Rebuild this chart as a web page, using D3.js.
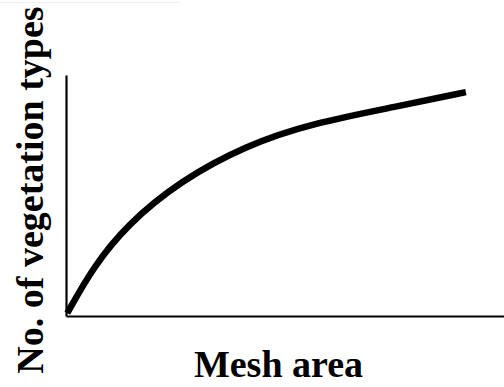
<!DOCTYPE html>
<html>
<head>
<meta charset="utf-8">
<script src="https://cdn.jsdelivr.net/npm/d3@7"></script>
<style>
  html, body { margin: 0; padding: 0; background: #fff; }
  svg { display: block; }
  text { font-family: "Liberation Serif", "Times New Roman", serif; font-weight: bold; fill: #000; }
</style>
</head>
<body>
<svg id="chart" width="504" height="387"></svg>
<script>
// Species–area style curve: number of vegetation types vs. mesh area (relative units)
const meshArea = [0.3, 6.2, 13.9, 26.0, 41.3, 56.5, 75.5, 91.3];
const vegTypes = [1.2, 20.3, 37.8, 56.0, 71.0, 80.1, 86.9, 92.9];
const xTitle = "Mesh area";
const yTitle = "No. of vegetation types";

const svg = d3.select("#chart");
const W = 504, H = 387;
const margin = { left: 66, right: 0, top: 75, bottom: 71 };

const x = d3.scaleLinear().domain([0, 100]).range([margin.left, W - margin.right]);
const y = d3.scaleLinear().domain([0, 100]).range([H - margin.bottom, margin.top]);

// faint frame line along the top edge
svg.append("line")
  .attr("x1", 0).attr("x2", 180).attr("y1", 2.5).attr("y2", 2.5)
  .attr("stroke", "#efefef").attr("stroke-width", 1);

// axes: plain lines, no ticks
const xAxis = d3.axisBottom(x).tickValues([]).tickSizeOuter(0);
const yAxis = d3.axisLeft(y).tickValues([]).tickSizeOuter(0);

svg.append("g")
  .attr("transform", `translate(0,${y(0)})`)
  .call(xAxis)
  .call(g => g.select(".domain").attr("stroke", "#000").attr("stroke-width", 2.2));

svg.append("g")
  .attr("transform", `translate(${x(0)},0)`)
  .call(yAxis)
  .call(g => g.select(".domain").attr("stroke", "#000").attr("stroke-width", 2.2));

// smoothed curve through the readings
const pts = meshArea.map((v, i) => [v, vegTypes[i]]);
const line = d3.line()
  .x(d => x(d[0]))
  .y(d => y(d[1]))
  .curve(d3.curveBasis);

svg.append("path")
  .datum(pts)
  .attr("d", line)
  .attr("fill", "none")
  .attr("stroke", "#000")
  .attr("stroke-width", 6.5)
  .attr("stroke-linecap", "butt");

// axis titles
svg.append("text")
  .attr("x", 278.5).attr("y", 377)
  .attr("text-anchor", "middle")
  .style("font-size", "38px")
  .text(xTitle);

svg.append("text")
  .attr("transform", "translate(43,190) rotate(-90)")
  .attr("text-anchor", "middle")
  .style("font-size", "38px")
  .text(yTitle);
</script>
</body>
</html>
